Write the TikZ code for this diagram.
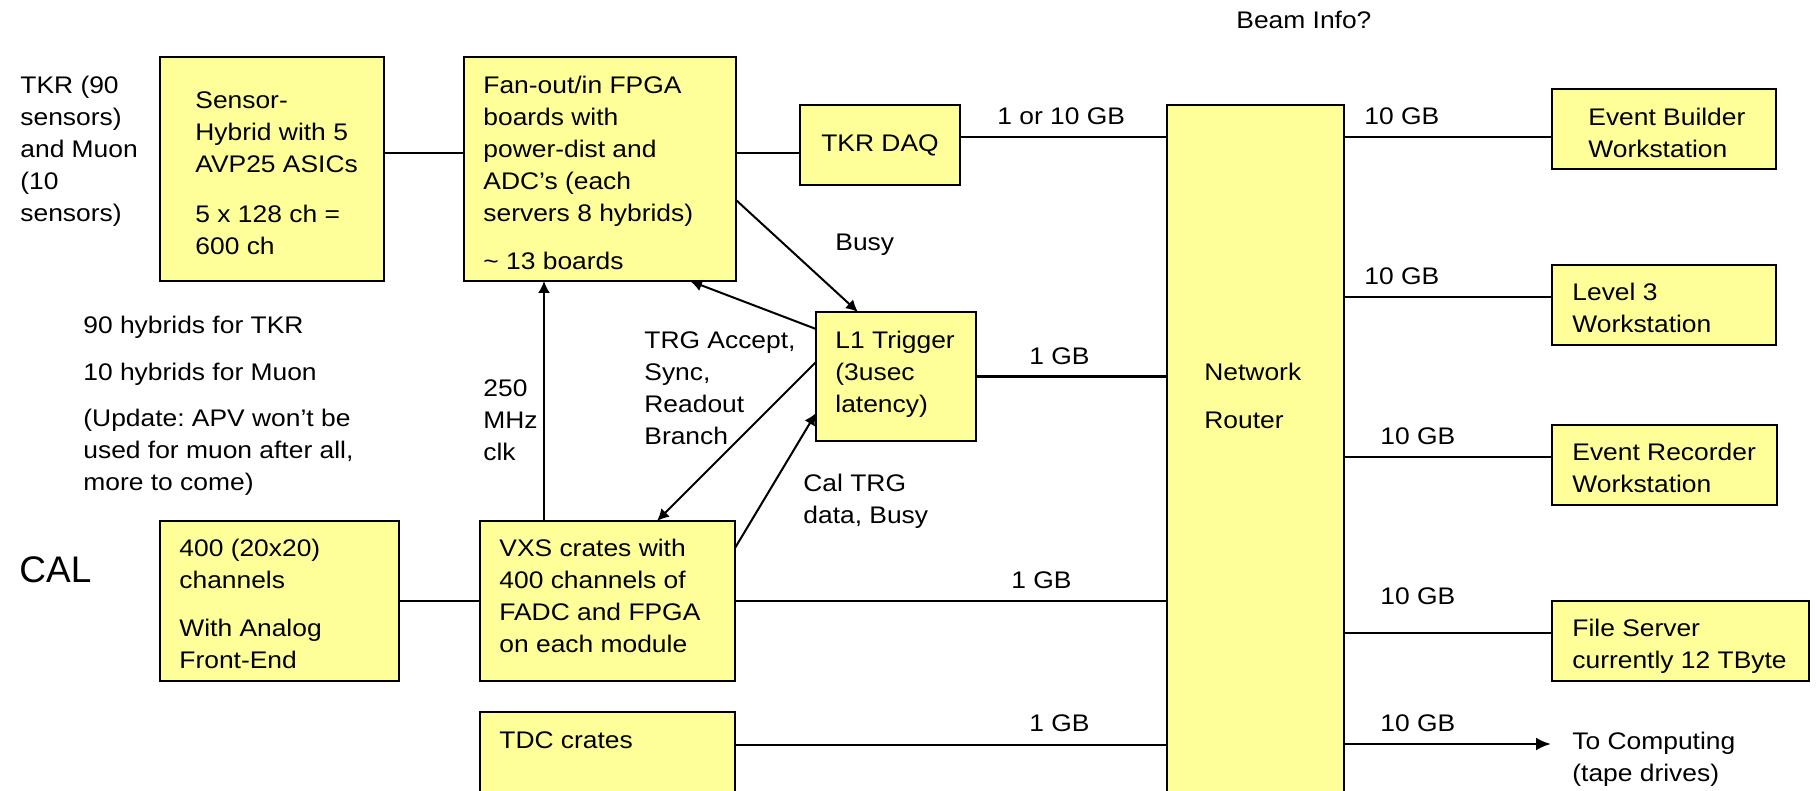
\documentclass[tikz,border=0pt]{standalone}
\usepackage{fontspec}
\setmainfont{Liberation Sans}[FakeStretch=1.1]
\newfontfamily\calfont{Liberation Sans}
\usetikzlibrary{arrows.meta}
\definecolor{boxyellow}{RGB}{255,255,153}
\frenchspacing
\tikzset{
  blk/.style={draw, fill=boxyellow, line width=1pt, anchor=north west, inner sep=0pt, outer sep=0pt},
  txt/.style={anchor=north west, align=left, inner sep=0pt},
  link/.style={line width=1.3pt},
  arr/.style={line width=1pt, -{Latex[length=6pt,width=6pt]}}
}
\begin{document}
\begin{tikzpicture}[x=0.5pt,y=-0.5pt,font=\fontsize{12}{16}\selectfont]
\useasboundingbox (0,0) rectangle (1816,791);

% tracker chain
\node[txt] (tkrnote) at (20,76) {TKR (90\\sensors)\\and Muon\\(10\\sensors)};
\node[blk, minimum width=112pt, minimum height=112pt] (hybrid) at (160,57) {};
\node[txt] (hybridtext) at (195,91) {Sensor-\\Hybrid with 5\\AVP25 ASICs\\[9pt]5 x 128 ch =\\600 ch};
\node[blk, minimum width=136pt, minimum height=112pt] (fanout) at (464,57) {};
\node[txt] (fanouttext) at (483,76) {Fan-out/in FPGA\\boards with\\power-dist and\\ADC’s (each\\servers 8 hybrids)\\[8pt]\textasciitilde{} 13 boards};
\node[blk, minimum width=80pt, minimum height=40pt] (tkrdaq) at (800,105) {TKR DAQ};
\node[txt] (hybridnote) at (83,316) {90 hybrids for TKR\\[7.5pt]10 hybrids for Muon\\[7pt](Update: APV won’t be\\used for muon after all,\\more to come)};

% trigger
\node[blk, minimum width=80pt, minimum height=64.5pt] (trigger) at (816,312) {};
\node[txt] (triggertext) at (835,331) {L1 Trigger\\(3usec\\latency)};

% router
\node[blk, minimum width=88.5pt, minimum height=347.5pt] (router) at (1167,105) {};
\node[txt] (routertext) at (1204,363) {Network\\[8pt]Router};
\node[txt] (beaminfo) at (1236,11) {Beam Info?};

% calorimeter chain
\node[anchor=west, inner sep=0pt, font=\calfont\fontsize{18.5}{22}\selectfont] (cal) at (19,570) {CAL};
\node[blk, minimum width=119.5pt, minimum height=80pt] (calfe) at (160,521) {};
\node[txt] (calfetext) at (179,539) {400 (20x20)\\channels\\[8pt]With Analog\\Front-End};
\node[blk, minimum width=127.5pt, minimum height=80pt] (vxs) at (480,521) {};
\node[txt] (vxstext) at (499,539) {VXS crates with\\400 channels of\\FADC and FPGA\\on each module};
\node[blk, minimum width=127.5pt, minimum height=44pt] (tdc) at (480,712) {};
\node[txt] (tdctext) at (499,731) {TDC crates};

% workstations
\node[blk, minimum width=112pt, minimum height=40pt] (builder) at (1552,89) {};
\node[txt] (buildertext) at (1588,108) {Event Builder\\Workstation};
\node[blk, minimum width=112pt, minimum height=40pt] (level3) at (1552,265) {};
\node[txt] (level3text) at (1572,283) {Level 3\\Workstation};
\node[blk, minimum width=112.5pt, minimum height=40pt] (recorder) at (1552,425) {};
\node[txt] (recordertext) at (1572,443) {Event Recorder\\Workstation};
\node[blk, minimum width=128.5pt, minimum height=40pt] (fileserver) at (1552,601) {};
\node[txt] (fileservertext) at (1572,619) {File Server\\currently 12 TByte};
\node[txt] (computing) at (1572,732) {To Computing\\(tape drives)};
\coordinate (tapeend) at (1551,744);

% labels
\node[txt] (clklabel) at (483,379) {250\\MHz\\clk};
\node[txt] (busylabel) at (835,234) {Busy};
\node[txt] (acceptlabel) at (644,331) {TRG Accept,\\Sync,\\Readout\\Branch};
\node[txt] (caltrglabel) at (803,474) {Cal TRG\\data, Busy};
\node[txt] (daqgb) at (997,107) {1 or 10 GB};
\node[txt] (triggergb) at (1029,347) {1 GB};
\node[txt] (vxsgb) at (1011,571) {1 GB};
\node[txt] (tdcgb) at (1029,714) {1 GB};
\foreach \gx/\gy [count=\gi] in {1364/107, 1364/267, 1380/427, 1380/587, 1380/714}
  \node[txt] (tengb\gi) at (\gx,\gy) {10 GB};

% links
\draw[link] ([yshift=8pt]hybrid.east) -- ([yshift=8pt]fanout.west);
\draw[link] ([yshift=8pt]fanout.east) -- ([yshift=8pt]fanout.east -| tkrdaq.west);
\draw[link] ([yshift=4pt]tkrdaq.east) -- ([yshift=4pt]tkrdaq.east -| router.west);
\draw[link] (trigger.east) -- (trigger.east -| router.west);
\draw[link] (calfe.east) -- (vxs.west);
\draw[link] (vxs.east) -- (vxs.east -| router.west);
\draw[link] ([yshift=-16.5pt]tdc.north east) -- ([yshift=-16.5pt]tdc.north east -| router.west);
\foreach \dest/\dy in {builder/-4, level3/4, recorder/4, fileserver/4}
  \draw[link] ([yshift=\dy pt]\dest.west) -- ([yshift=\dy pt]\dest.west -| router.east);
\draw[link, -{Latex[length=7.5pt,width=6.5pt]}] (router.east |- tapeend) -- (tapeend);

% arrows
\draw[arr] ([xshift=-31.75pt]vxs.north) -- ([xshift=-31.75pt]vxs.north |- fanout.south);
\draw[arr] ([yshift=-8.5pt]trigger.north west) -- ([xshift=45pt]fanout.south);
\draw[arr] ([yshift=-15.5pt]fanout.east) -- ([xshift=-19pt]trigger.north);
\draw[arr] ([yshift=-25pt]trigger.north west) -- ([xshift=24.75pt]vxs.north);
\draw[arr] ([yshift=-13.5pt]vxs.north east) -- ([yshift=-18.25pt]trigger.west);
\end{tikzpicture}
\end{document}
